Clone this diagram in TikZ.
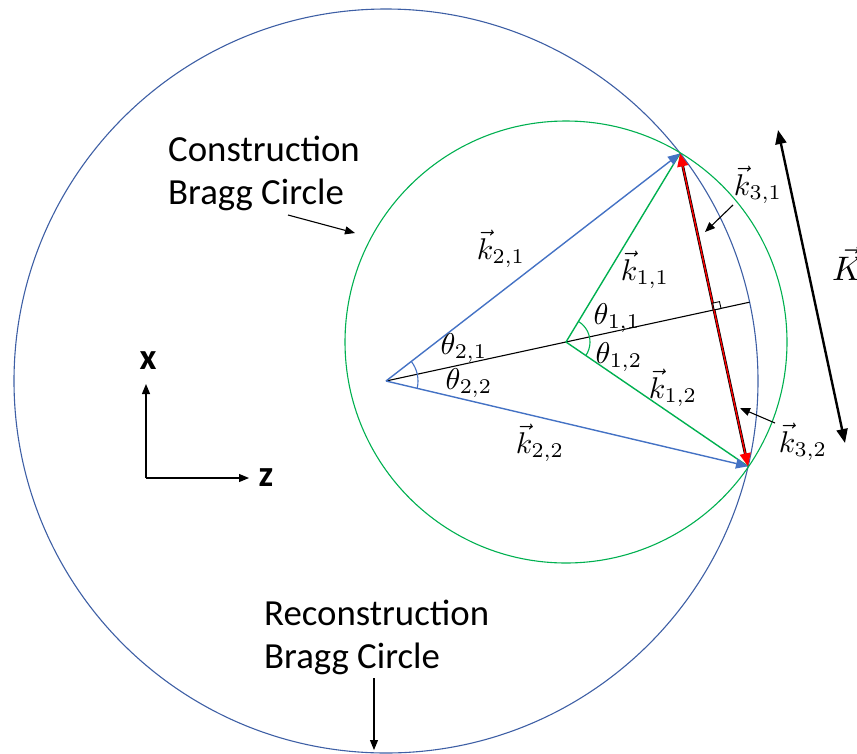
\documentclass[tikz,border=0pt]{standalone}
\usepackage{graphicx}
\usepackage{fontspec}
\setmainfont{Carlito}
\usetikzlibrary{arrows.meta,calc}
\definecolor{circblue}{RGB}{62,95,165}
\definecolor{vecblue}{RGB}{68,114,196}
\definecolor{grn}{RGB}{0,176,80}
\newcommand{\mylab}[1]{\scalebox{3}{\fontsize{10}{12}\selectfont$#1$}}
\begin{document}
\begin{tikzpicture}[x=1pt,y=-1pt,
  bigcircle/.style={draw=circblue,line width=1.1pt},
  smallcircle/.style={draw=grn,line width=1.1pt},
  bvec/.style={draw=vecblue,line width=1.4pt,-{Triangle[length=12pt,width=10pt]}},
  gline/.style={draw=grn,line width=1.4pt},
  axline/.style={draw=black,line width=1.1pt},
  ptr/.style={draw=black,line width=1.1pt,-{Triangle[length=10pt,width=8pt]}},
  bigptr/.style={draw=black,line width=2.4pt,{Triangle[length=14pt,width=11pt]}-{Triangle[length=14pt,width=11pt]}},
  txt/.style={font=\fontsize{36.8}{43}\selectfont,inner sep=0pt,align=left},
  axtxt/.style={font=\fontsize{36.8}{43}\selectfont\bfseries,inner sep=0pt},
  mlbl/.style={inner sep=0pt}]
\useasboundingbox (0,0) rectangle (857,753);
% key points
\coordinate (O2) at (386,381);
\coordinate (O1) at (566,342);
\coordinate (T) at (680,153.5);
\coordinate (B) at (748,466.3);
\coordinate (P) at (714.2,309.9);
\coordinate (E) at (749.5,302.2);
\coordinate (sqA) at (721.0,308.4);
\coordinate (sqB) at (719.5,301.6);
\coordinate (sqC) at (712.7,303.1);
% circles
\draw[bigcircle] (O2) circle[radius=372];
\draw[smallcircle] (O1) circle[radius=221];
% axis line
\draw[axline] (O2) -- (E);
% green lines
\draw[gline] (O1) -- (T);
\draw[gline] (O1) -- (B);
% blue vectors
\draw[bvec] (O2) -- (T);
\draw[bvec] (O2) -- (B);
% angle arcs
\draw[draw=vecblue,line width=1.1pt] ($(O2)+(-37.7:32)$) arc[start angle=-37.7,end angle=13.3,radius=32];
\draw[draw=grn,line width=1.1pt] ($(O1)+(-58.8:24)$) arc[start angle=-58.8,end angle=34.3,radius=24];
% red K vector
\draw[black,line width=2.8pt,shorten <=11pt,shorten >=11pt] (B) -- (T);
\draw[red,line width=1.4pt,{Triangle[length=13pt,width=11pt]}-{Triangle[length=13pt,width=11pt]}] (B) -- (T);
% right angle marker
\draw[black,line width=0.9pt,fill=white] (P) -- (sqA) -- (sqB) -- (sqC) -- cycle;
% big K arrow
\coordinate (KA) at (778,130);
\coordinate (KB) at (845,443);
\draw[bigptr] (KA) -- (KB);
\node[inner sep=0pt,anchor=base west] (Klbl) at (832,280) {\scalebox{3.4}{\fontsize{10}{12}\selectfont$\vec{K}$}};
% axes
\coordinate (ax0) at (146,478);
\coordinate (axX) at (146,384);
\coordinate (axZ) at (249,478);
\draw[ptr] (ax0) -- (axX);
\draw[ptr] (ax0) -- (axZ);
\node[axtxt] (xl) at (148,361) {x};
\node[axtxt] (zl) at (266,478) {z};
% text labels
\node[txt,anchor=north west] (cons) at (168,135.5) {Construction\\Bragg Circle};
\coordinate (consA) at (288,215);
\coordinate (consB) at (355,233);
\draw[ptr] (consA) -- (consB);
\node[txt,anchor=north west] (recons) at (264,599.5) {Reconstruction\\Bragg Circle};
\coordinate (recA) at (374,678);
\coordinate (recB) at (374,750);
\draw[ptr] (recA) -- (recB);
% math labels
\node[mlbl] (k21) at (501,249) {\mylab{\vec{k}_{2,1}}};
\node[mlbl] (k11) at (645,270) {\mylab{\vec{k}_{1,1}}};
\node[mlbl] (t11) at (617,318) {\mylab{\theta_{1,1}}};
\node[mlbl] (t12) at (619,357) {\mylab{\theta_{1,2}}};
\node[mlbl] (t21) at (464,348) {\mylab{\theta_{2,1}}};
\node[mlbl] (t22) at (469,383) {\mylab{\theta_{2,2}}};
\node[mlbl] (k12) at (673,388) {\mylab{\vec{k}_{1,2}}};
\node[mlbl] (k22) at (540,443) {\mylab{\vec{k}_{2,2}}};
\node[mlbl] (k31) at (758,185) {\mylab{\vec{k}_{3,1}}};
\node[mlbl] (k32) at (803,442) {\mylab{\vec{k}_{3,2}}};
\coordinate (p31A) at (733,205);
\coordinate (p31B) at (705,232);
\draw[ptr] (p31A) -- (p31B);
\coordinate (p32A) at (775,423);
\coordinate (p32B) at (740,408);
\draw[ptr] (p32A) -- (p32B);
\end{tikzpicture}
\end{document}
